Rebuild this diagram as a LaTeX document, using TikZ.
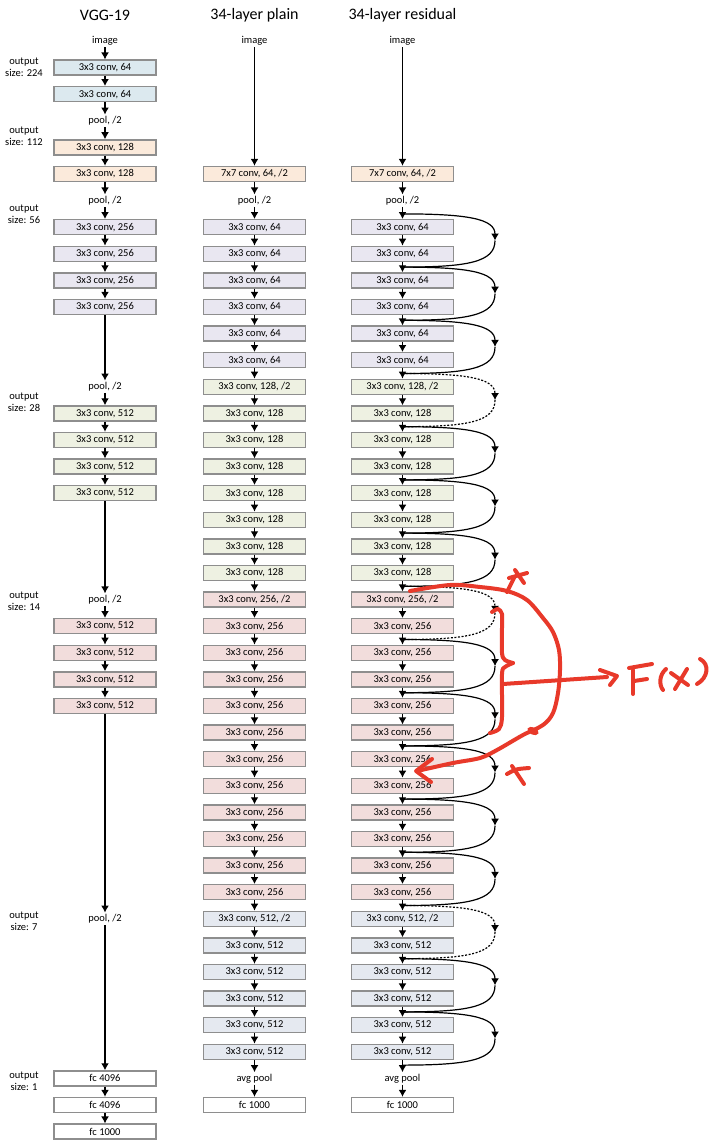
\documentclass[tikz,border=0pt]{standalone}
\usepackage{fontspec}
\setmainfont{Carlito}
\usetikzlibrary{arrows.meta}

\definecolor{boxline}{HTML}{8E8E8E}
\definecolor{cblue}{HTML}{DCE9EF}
\definecolor{cpeach}{HTML}{FBEADB}
\definecolor{clav}{HTML}{E9E7F1}
\definecolor{cgreen}{HTML}{EEF1E2}
\definecolor{cpink}{HTML}{F2DDDC}
\definecolor{csteel}{HTML}{E5E9F0}
\definecolor{penred}{HTML}{E8392A}

% row centre (in px, downwards)
\newcommand{\ry}[1]{174+26.6*(#1)}

\begin{document}
\begin{tikzpicture}[x=1pt, y=-1pt,
    every node/.style={font=\fontsize{10.5}{12}\selectfont, align=center},
    layer/.style={draw=boxline, line width=1.3pt, minimum width=102pt,
                  minimum height=15pt, inner sep=0pt},
    txt/.style={inner sep=1.5pt},
    head/.style={font=\fontsize{16}{19}\selectfont},
    arr/.style={-{Latex[length=7pt,width=8pt]}, line width=1.4pt},
    shortcut/.style={-{Latex[length=7pt,width=8pt]}, line width=1.2pt},
    shortcutline/.style={line width=1.2pt},
    dashskip/.style={dash pattern=on 2pt off 1.6pt},
    pen/.style={draw=penred, line width=4pt, line cap=round, line join=round}
]
\useasboundingbox (0,0) rectangle (719,1142);

% titles
\node[head] (tvgg)   at (105,15)   {VGG-19};
\node[head] (tplain) at (254.5,15) {34-layer plain};
\node[head] (tres)   at (402.5,15) {34-layer residual};

% output sizes
\node (o224) at (24,67)   {output\\size: 224};
\node (o112) at (24,136)  {output\\size: 112};
\node (o56)  at (24,214)  {output\\size: 56};
\node (o28)  at (24,402)  {output\\size: 28};
\node (o14)  at (24,601)  {output\\size: 14};
\node (o7)   at (24,921)  {output\\size: 7};
\node (o1)   at (24,1081) {output\\size: 1};

% VGG-19
\node[txt] (vimg) at (105,{\ry{-5}}) {image};
\node[layer, fill=cblue]  (v1) at (105,{\ry{-4}}) {3x3 conv, 64};
\node[layer, fill=cblue]  (v2) at (105,{\ry{-3}}) {3x3 conv, 64};
\node[txt]                (v3) at (105,{\ry{-2}}) {pool, /2};
\node[layer, fill=cpeach] (v4) at (105,{\ry{-1}}) {3x3 conv, 128};
\node[layer, fill=cpeach] (v5) at (105,{\ry{0}})  {3x3 conv, 128};
\node[txt]                (v6) at (105,{\ry{1}})  {pool, /2};
\foreach \i in {7,...,10}
  \node[layer, fill=clav] (v\i) at (105,{\ry{\i-5}}) {3x3 conv, 256};
\node[txt]                (v11) at (105,{\ry{8}}) {pool, /2};
\foreach \i in {12,...,15}
  \node[layer, fill=cgreen] (v\i) at (105,{\ry{\i-3}}) {3x3 conv, 512};
\node[txt]                (v16) at (105,{\ry{16}}) {pool, /2};
\foreach \i in {17,...,20}
  \node[layer, fill=cpink] (v\i) at (105,{\ry{\i}}) {3x3 conv, 512};
\node[txt]                (v21) at (105,{\ry{28}}) {pool, /2};
\node[layer, fill=white]  (v22) at (105,{\ry{34}}) {fc 4096};
\node[layer, fill=white]  (v23) at (105,{\ry{35}}) {fc 4096};
\node[layer, fill=white]  (v24) at (105,{\ry{36}}) {fc 1000};
\draw[arr] (vimg) -- (v1);
\foreach \k [evaluate=\k as \kk using int(\k+1)] in {1,...,23}
  \draw[arr] (v\k) -- (v\kk);

% 34-layer plain and residual
\foreach \col/\cx in {p/254.5, r/402.5} {
  \node[txt] (\col img) at (\cx,{\ry{-5}}) {image};
  \node[layer, fill=cpeach] (\col0) at (\cx,{\ry{0}}) {7x7 conv, 64, /2};
  \node[txt] (\col1) at (\cx,{\ry{1}}) {pool, /2};
  \foreach \i in {2,...,7}
    \node[layer, fill=clav] (\col\i) at (\cx,{\ry{\i}}) {3x3 conv, 64};
  \node[layer, fill=cgreen] (\col8) at (\cx,{\ry{8}}) {3x3 conv, 128, /2};
  \foreach \i in {9,...,15}
    \node[layer, fill=cgreen] (\col\i) at (\cx,{\ry{\i}}) {3x3 conv, 128};
  \node[layer, fill=cpink] (\col16) at (\cx,{\ry{16}}) {3x3 conv, 256, /2};
  \foreach \i in {17,...,27}
    \node[layer, fill=cpink] (\col\i) at (\cx,{\ry{\i}}) {3x3 conv, 256};
  \node[layer, fill=csteel] (\col28) at (\cx,{\ry{28}}) {3x3 conv, 512, /2};
  \foreach \i in {29,...,33}
    \node[layer, fill=csteel] (\col\i) at (\cx,{\ry{\i}}) {3x3 conv, 512};
  \node[txt] (\col34) at (\cx,{\ry{34}}) {avg pool};
  \node[layer, fill=white] (\col35) at (\cx,{\ry{35}}) {fc 1000};
  \draw[arr] (\col img) -- (\col0);
  \foreach \k [evaluate=\k as \kk using int(\k+1)] in {0,...,34}
    \draw[arr] (\col\k) -- (\col\kk);
}

% shortcuts
\foreach \j/\sty in {0/solid, 1/solid, 2/solid, 3/dashskip, 4/solid, 5/solid,
                     6/solid, 7/dashskip, 8/solid, 9/solid, 10/solid, 11/solid,
                     12/solid, 13/dashskip, 14/solid, 15/solid} {
  \pgfmathsetmacro\ya{\ry{1+2*\j}+13.3}
  \pgfmathsetmacro\ym{\ya+26.6}
  \pgfmathsetmacro\yb{\ya+53.2}
  \coordinate (ja\j) at (402.5,\ya);
  \coordinate (jm\j) at (495,\ym);
  \coordinate (jb\j) at (402.5,\yb);
  \draw[shortcut, \sty] (ja\j) .. controls (468,\ya) and (495,{\ya+5}) .. (jm\j);
  \draw[shortcutline, \sty] (jm\j) .. controls (495,{\yb-5}) and (468,\yb) .. (jb\j);
}

% hand-written notes
\draw[pen] plot[smooth, tension=0.55] coordinates {(410,591) (450,585) (480,587)
  (507,591) (527,600) (543,618) (553,632) (559,650) (560,670) (558,693)
  (553,713) (543,725) (523,735) (497,750) (480,758) (453,763) (417,771)};
\fill[penred, rotate around={-25:(533,731)}] (533,731) ellipse (6 and 3.5);
\draw[pen] (432,759) -- (416,771) -- (431,782);
\draw[pen] (507,592) -- (514,578);
\draw[pen] (509,578) -- (527,573);
\draw[pen] (515,570) -- (524,583);
\draw[pen] plot[smooth, tension=0.5] coordinates {(492,612) (498,609) (502,614)
  (502,627) (502,653) (505,660) (513,663)};
\draw[pen] plot[smooth, tension=0.5] coordinates {(513,663) (505,667) (502,674)
  (502,717) (499,729) (490,733)};
\draw[pen] (503,684) -- (607,677);
\draw[pen] (600,670) -- (617,676) -- (610,685);
\draw[pen] (633,670) -- (633,694);
\draw[pen] (629,668) -- (652,664);
\draw[pen] (634,681) -- (647,679);
\draw[pen] (666,669) .. controls (659,675) and (659,685) .. (663,690);
\draw[pen] (671,673) -- (688,685);
\draw[pen] (687,669) -- (675,689);
\draw[pen] (700,659) .. controls (710,664) and (708,678) .. (697,684);
\draw[pen] (507,774) .. controls (516,769) .. (529,768);
\draw[pen] (512,766) -- (524,784);
\end{tikzpicture}
\end{document}
